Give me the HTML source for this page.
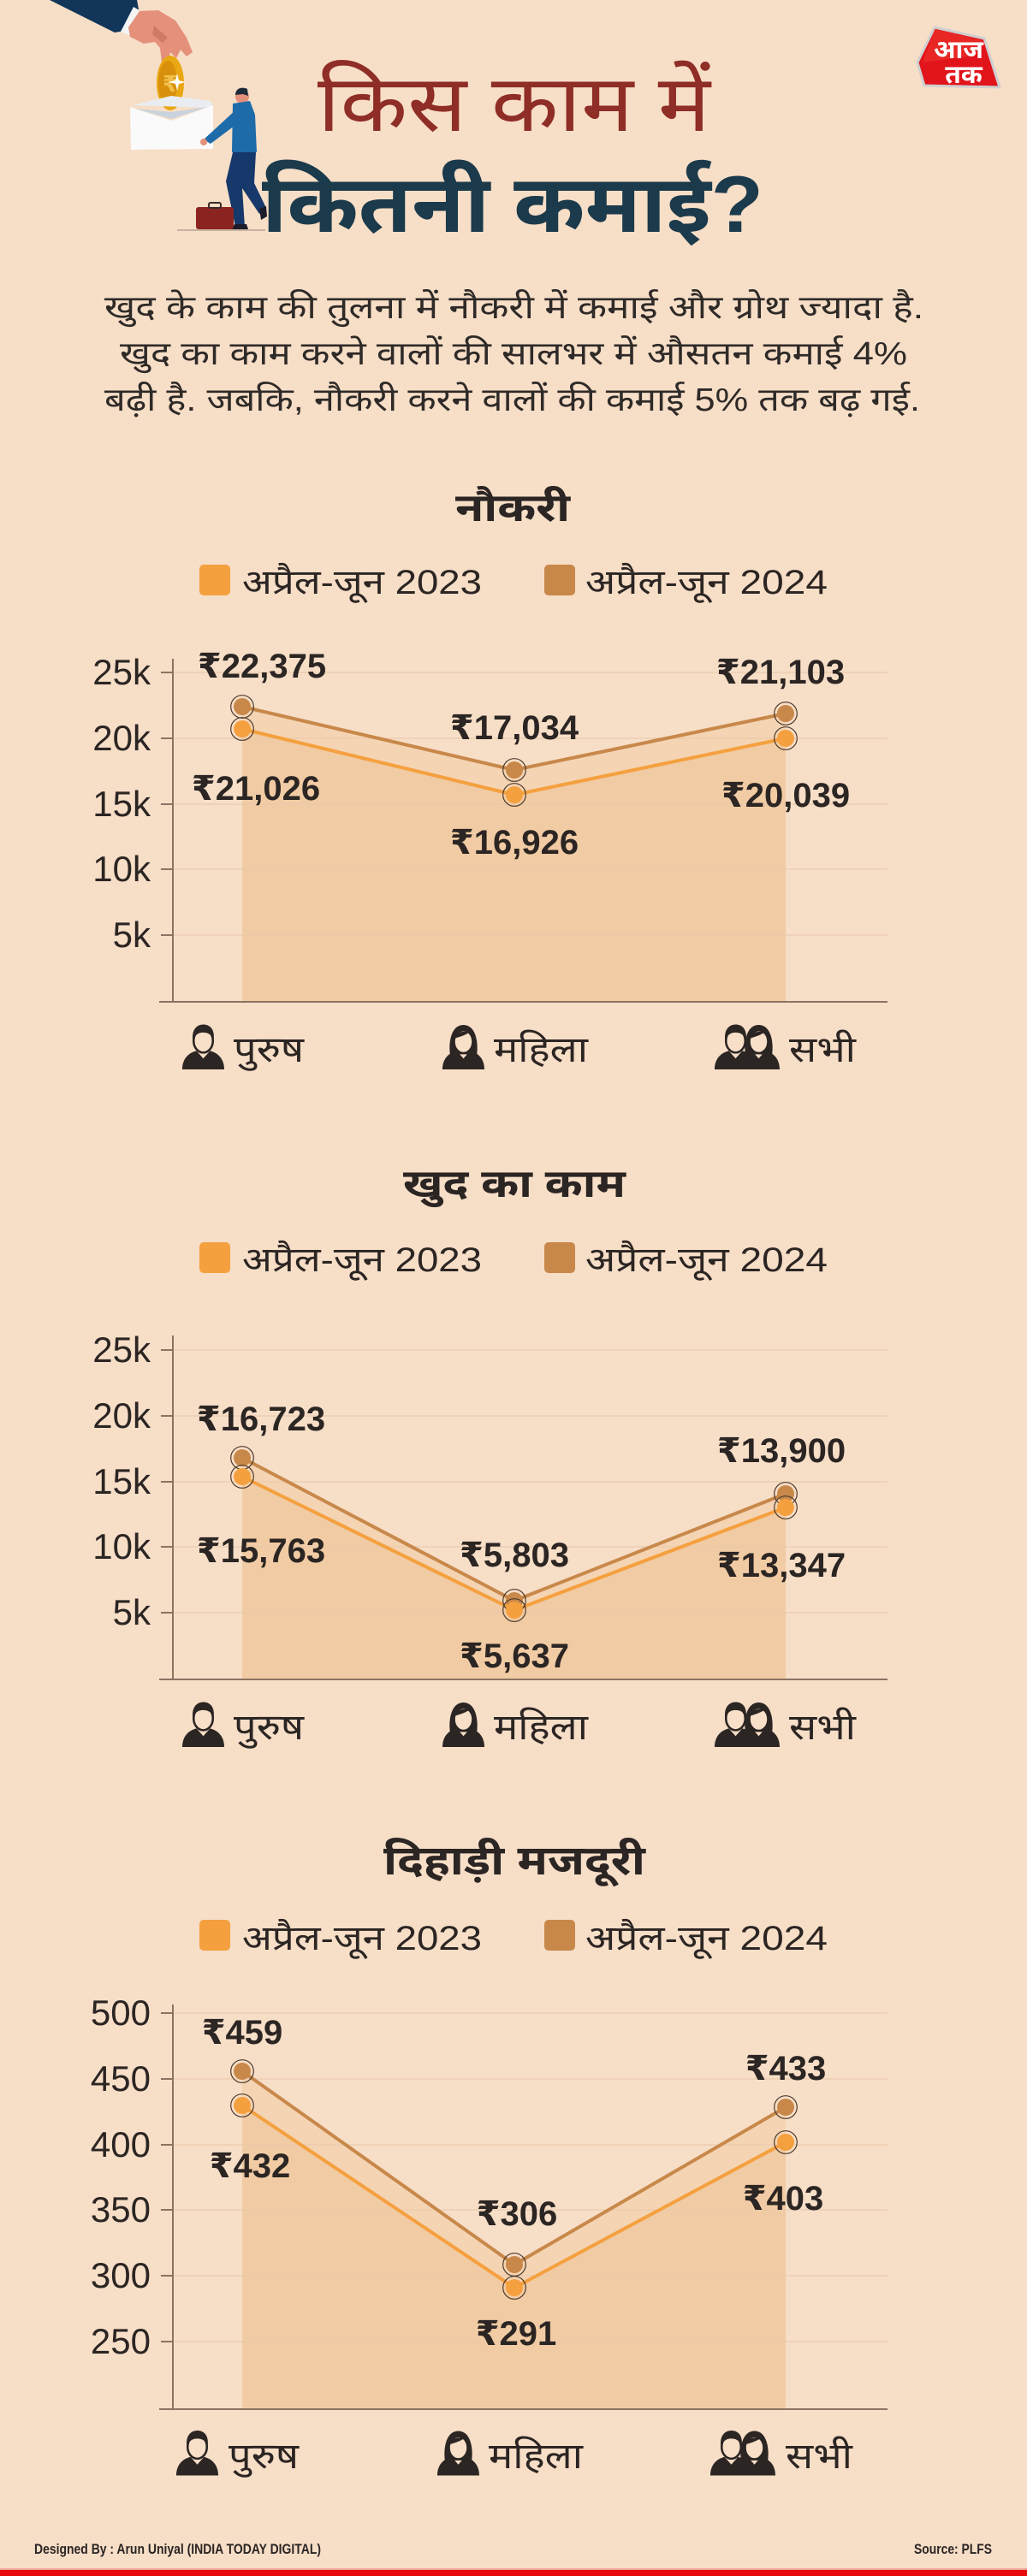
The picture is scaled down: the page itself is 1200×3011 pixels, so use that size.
<!DOCTYPE html>
<html lang="hi">
<head>
<meta charset="utf-8">
<style>
  html,body{margin:0;padding:0;background:#F7DEC7;}
  body{width:1200px;height:3011px;overflow:hidden;}
  svg{display:block;}
  .dev{font-family:"Liberation Sans","Noto Sans Devanagari","Lohit Devanagari","FreeSans","Mukta",sans-serif;}
  .num{font-family:"Liberation Sans","DejaVu Sans",sans-serif;}
</style>
</head>
<body>
<svg width="1200" height="3011" viewBox="0 0 1200 3011" xmlns="http://www.w3.org/2000/svg">
  <defs>
    <symbol id="male" viewBox="0 0 52 54">
      <path d="M1 54 C1 41 9 34 18 32 L26 41 L34 32 C43 34 51 41 51 54 Z" fill="#2b2523"/>
      <ellipse cx="26" cy="20" rx="11.5" ry="14" fill="#F7DFC8" stroke="#2b2523" stroke-width="2.6"/>
      <path d="M13.5 19 C12 6 19 0.5 26 0.5 C33 0.5 40 5 38.5 19 C36 12 31 10 26 10 C20 10 16 13 13.5 19 Z" fill="#2b2523"/>
    </symbol>
    <symbol id="female" viewBox="0 0 52 54">
      <path d="M10 36 C8 20 12 1 26 1 C40 1 44 20 42 36 Z" fill="#2b2523"/>
      <path d="M1 54 C1 41 9 34 18 32 L26 41 L34 32 C43 34 51 41 51 54 Z" fill="#2b2523"/>
      <ellipse cx="26" cy="21" rx="11" ry="13.5" fill="#F7DFC8" stroke="#2b2523" stroke-width="2.2"/>
      <path d="M15.5 17 C17 10 23 8 33 9.5 C29 13 22 15 15.5 17 Z" fill="#2b2523"/>
    </symbol>
  </defs>

  <rect x="0" y="0" width="1200" height="3011" fill="#F7DEC7"/>

  <!-- ===== Illustration ===== -->
  <g>
    <polygon points="58,0 160,0 162,11 146,36 134,38" fill="#12355A"/>
    <polygon points="156,8 166,14 151,41 141,37" fill="#F4F4F4"/>
    <polygon points="150,32 163,13 185,12 205,24 218,44 225,61 218,66 211,58 206,68 199,61 197,72 189,73 187,56 181,49 168,51 152,43" fill="#E4907B"/>
    <polygon points="180,30 196,44 190,50 178,40" fill="#CF7A66"/>
    <ellipse cx="199" cy="97" rx="16" ry="32" fill="#E9A714"/>
    <ellipse cx="196" cy="97" rx="11" ry="26" fill="#D8900C"/>
    <text x="190" y="107" font-size="26" font-weight="bold" fill="#F2C04A" class="num">₹</text>
    <path d="M207 86 L209 94 L217 96 L209 98 L207 106 L205 98 L197 96 L205 94 Z" fill="#FFFFFF"/>
    <polygon points="155,123 200,112 246,118 249,126" fill="#E9EDF1"/>
    <polygon points="152,125 200,141 249,123 249,174 153,175" fill="#FAFAFA"/>
    <polygon points="158,127 200,139 243,125 200,131" fill="#C9D3DD"/>
    <circle cx="283" cy="113" r="8" fill="#E4907B"/>
    <path d="M275 111 C275 103 283 101 289 104 L290 112 L284 110 Z" fill="#1E2A3A"/>
    <polygon points="272,121 292,118 298,134 300,178 271,178" fill="#1E6BAA"/>
    <polygon points="276,128 286,138 246,168 238,163" fill="#1E6BAA"/>
    <circle cx="238" cy="166" r="4" fill="#E4907B"/>
    <polygon points="272,178 299,178 297,214 311,243 303,250 283,220 286,265 275,265 264,212" fill="#16386A"/>
    <polygon points="274,262 288,262 290,268 270,269" fill="#1B1B2A"/>
    <polygon points="303,244 311,241 312,253 305,257" fill="#1B1B2A"/>
    <rect x="229" y="242" width="44" height="26" rx="3" fill="#8B2420"/>
    <rect x="244" y="237" width="14" height="6" rx="2" fill="none" stroke="#3a2a2a" stroke-width="2"/>
    <line x1="207" y1="269" x2="310" y2="269" stroke="#C7B3A0" stroke-width="2"/>
  </g>

  <!-- ===== Logo ===== -->
  <g>
    <polygon points="1092,32 1150,45 1168,102 1080,100 1072,73" fill="#E2141B" stroke="#CFCFCF" stroke-width="3" stroke-linejoin="round"/>
    <polygon points="1092,34 1148,47 1140,65 1078,73" fill="#EE3A30" opacity="0.5"/>
    <text x="1120" y="68" font-size="30" font-weight="bold" fill="#FFFFFF" text-anchor="middle" class="dev">आज</text>
    <text x="1126" y="97" font-size="30" font-weight="bold" fill="#FFFFFF" text-anchor="middle" class="dev">तक</text>
  </g>

  <!-- ===== Title ===== -->
  <text x="371" y="153" font-size="92" fill="#8F2D27" class="dev" textLength="459" lengthAdjust="spacingAndGlyphs">किस काम में</text>
  <text x="306" y="271" font-size="94" font-weight="bold" fill="#1B3A4B" class="dev" textLength="586" lengthAdjust="spacingAndGlyphs">कितनी कमाई?</text>

  <!-- ===== Paragraph ===== -->
  <g font-size="38" fill="#2e2a28" class="dev">
    <text x="122" y="372" textLength="957" lengthAdjust="spacingAndGlyphs">खुद के काम की तुलना में नौकरी में कमाई और ग्रोथ ज्यादा है.</text>
    <text x="140" y="426" textLength="920" lengthAdjust="spacingAndGlyphs">खुद का काम करने वालों की सालभर में औसतन कमाई 4%</text>
    <text x="122" y="480" textLength="953" lengthAdjust="spacingAndGlyphs">बढ़ी है. जबकि, नौकरी करने वालों की कमाई 5% तक बढ़ गई.</text>
  </g>

  <!-- ================= CHART 1 : नौकरी ================= -->
  <g>
    <text x="599" y="609" font-size="46" font-weight="bold" fill="#2b2523" text-anchor="middle" class="dev" textLength="134" lengthAdjust="spacingAndGlyphs">नौकरी</text>
    <rect x="233" y="660" width="36" height="36" rx="5" fill="#F5A03F"/>
    <text x="283" y="694" font-size="40" fill="#2b2523" class="dev" textLength="280" lengthAdjust="spacingAndGlyphs">अप्रैल-जून 2023</text>
    <rect x="636" y="660" width="36" height="36" rx="5" fill="#C8884A"/>
    <text x="684" y="694" font-size="40" fill="#2b2523" class="dev" textLength="283" lengthAdjust="spacingAndGlyphs">अप्रैल-जून 2024</text>

    <polygon points="283,1170 283,826 601,900 918,834 918,1170" fill="#F4D4B3"/>
    <polygon points="283,1170 283,852 601,929 918,863 918,1170" fill="#F1CBA3"/>
    <g stroke="#E9C9AC" stroke-width="1.6" opacity="0.75">
      <line x1="202" y1="786" x2="1037" y2="786"/>
      <line x1="202" y1="863" x2="1037" y2="863"/>
      <line x1="202" y1="940" x2="1037" y2="940"/>
      <line x1="202" y1="1016" x2="1037" y2="1016"/>
      <line x1="202" y1="1093" x2="1037" y2="1093"/>
    </g>
    <g stroke="#8A7462" stroke-width="2">
      <line x1="202" y1="770" x2="202" y2="1171"/>
      <line x1="186" y1="1171" x2="1037" y2="1171"/>
      <line x1="188" y1="786" x2="202" y2="786"/>
      <line x1="188" y1="863" x2="202" y2="863"/>
      <line x1="188" y1="940" x2="202" y2="940"/>
      <line x1="188" y1="1016" x2="202" y2="1016"/>
      <line x1="188" y1="1093" x2="202" y2="1093"/>
    </g>
    <g font-size="42" fill="#2b2523" text-anchor="end" class="num">
      <text x="176" y="800">25k</text>
      <text x="176" y="877">20k</text>
      <text x="176" y="954">15k</text>
      <text x="176" y="1030">10k</text>
      <text x="176" y="1107">5k</text>
    </g>
    <polyline points="283,826 601,900 918,834" fill="none" stroke="#C8884A" stroke-width="4" stroke-linejoin="round"/>
    <polyline points="283,852 601,929 918,863" fill="none" stroke="#F5A03F" stroke-width="4" stroke-linejoin="round"/>
    <g>
      <circle cx="283" cy="826" r="10" fill="#C8884A"/><circle cx="283" cy="826" r="13.3" fill="none" stroke="#4d3b2d" stroke-width="1.2"/>
      <circle cx="601" cy="900" r="10" fill="#C8884A"/><circle cx="601" cy="900" r="13.3" fill="none" stroke="#4d3b2d" stroke-width="1.2"/>
      <circle cx="918" cy="834" r="10" fill="#C8884A"/><circle cx="918" cy="834" r="13.3" fill="none" stroke="#4d3b2d" stroke-width="1.2"/>
      <circle cx="283" cy="852" r="10" fill="#F5A03F"/><circle cx="283" cy="852" r="13.3" fill="none" stroke="#4d3b2d" stroke-width="1.2"/>
      <circle cx="601" cy="929" r="10" fill="#F5A03F"/><circle cx="601" cy="929" r="13.3" fill="none" stroke="#4d3b2d" stroke-width="1.2"/>
      <circle cx="918" cy="863" r="10" fill="#F5A03F"/><circle cx="918" cy="863" r="13.3" fill="none" stroke="#4d3b2d" stroke-width="1.2"/>
    </g>
    <g font-size="40" font-weight="bold" fill="#2b2523" text-anchor="middle" class="num">
      <text x="306" y="792">₹22,375</text>
      <text x="299" y="935">₹21,026</text>
      <text x="601" y="864">₹17,034</text>
      <text x="601" y="998">₹16,926</text>
      <text x="912" y="799">₹21,103</text>
      <text x="918" y="943">₹20,039</text>
    </g>
    <use href="#male" x="212" y="1197" width="51" height="53"/>
    <text x="273" y="1241" font-size="42" fill="#2b2523" class="dev" textLength="82" lengthAdjust="spacingAndGlyphs">पुरुष</text>
    <use href="#female" x="516" y="1197" width="51" height="53"/>
    <text x="577" y="1241" font-size="42" fill="#2b2523" class="dev" textLength="110" lengthAdjust="spacingAndGlyphs">महिला</text>
    <use href="#male" x="834" y="1197" width="51" height="53"/>
    <use href="#female" x="861" y="1197" width="51" height="53"/>
    <text x="922" y="1241" font-size="42" fill="#2b2523" class="dev" textLength="78" lengthAdjust="spacingAndGlyphs">सभी</text>
  </g>

  <!-- ================= CHART 2 : खुद का काम ================= -->
  <g>
    <text x="601" y="1399" font-size="46" font-weight="bold" fill="#2b2523" text-anchor="middle" class="dev" textLength="260" lengthAdjust="spacingAndGlyphs">खुद का काम</text>
    <rect x="233" y="1452" width="36" height="36" rx="5" fill="#F5A03F"/>
    <text x="283" y="1486" font-size="40" fill="#2b2523" class="dev" textLength="280" lengthAdjust="spacingAndGlyphs">अप्रैल-जून 2023</text>
    <rect x="636" y="1452" width="36" height="36" rx="5" fill="#C8884A"/>
    <text x="684" y="1486" font-size="40" fill="#2b2523" class="dev" textLength="283" lengthAdjust="spacingAndGlyphs">अप्रैल-जून 2024</text>

    <polygon points="283,1962 283,1704 601,1871 918,1746 918,1962" fill="#F4D4B3"/>
    <polygon points="283,1962 283,1726 601,1882 918,1762 918,1962" fill="#F1CBA3"/>
    <g stroke="#E9C9AC" stroke-width="1.6" opacity="0.75">
      <line x1="202" y1="1578" x2="1037" y2="1578"/>
      <line x1="202" y1="1655" x2="1037" y2="1655"/>
      <line x1="202" y1="1732" x2="1037" y2="1732"/>
      <line x1="202" y1="1808" x2="1037" y2="1808"/>
      <line x1="202" y1="1885" x2="1037" y2="1885"/>
    </g>
    <g stroke="#8A7462" stroke-width="2">
      <line x1="202" y1="1561" x2="202" y2="1963"/>
      <line x1="186" y1="1963" x2="1037" y2="1963"/>
      <line x1="188" y1="1578" x2="202" y2="1578"/>
      <line x1="188" y1="1655" x2="202" y2="1655"/>
      <line x1="188" y1="1732" x2="202" y2="1732"/>
      <line x1="188" y1="1808" x2="202" y2="1808"/>
      <line x1="188" y1="1885" x2="202" y2="1885"/>
    </g>
    <g font-size="42" fill="#2b2523" text-anchor="end" class="num">
      <text x="176" y="1592">25k</text>
      <text x="176" y="1669">20k</text>
      <text x="176" y="1746">15k</text>
      <text x="176" y="1822">10k</text>
      <text x="176" y="1899">5k</text>
    </g>
    <polyline points="283,1704 601,1871 918,1746" fill="none" stroke="#C8884A" stroke-width="4" stroke-linejoin="round"/>
    <polyline points="283,1726 601,1882 918,1762" fill="none" stroke="#F5A03F" stroke-width="4" stroke-linejoin="round"/>
    <g>
      <circle cx="283" cy="1704" r="10" fill="#C8884A"/><circle cx="283" cy="1704" r="13.3" fill="none" stroke="#4d3b2d" stroke-width="1.2"/>
      <circle cx="601" cy="1871" r="10" fill="#C8884A"/><circle cx="601" cy="1871" r="13.3" fill="none" stroke="#4d3b2d" stroke-width="1.2"/>
      <circle cx="918" cy="1746" r="10" fill="#C8884A"/><circle cx="918" cy="1746" r="13.3" fill="none" stroke="#4d3b2d" stroke-width="1.2"/>
      <circle cx="283" cy="1726" r="10" fill="#F5A03F"/><circle cx="283" cy="1726" r="13.3" fill="none" stroke="#4d3b2d" stroke-width="1.2"/>
      <circle cx="601" cy="1882" r="10" fill="#F5A03F"/><circle cx="601" cy="1882" r="13.3" fill="none" stroke="#4d3b2d" stroke-width="1.2"/>
      <circle cx="918" cy="1762" r="10" fill="#F5A03F"/><circle cx="918" cy="1762" r="13.3" fill="none" stroke="#4d3b2d" stroke-width="1.2"/>
    </g>
    <g font-size="40" font-weight="bold" fill="#2b2523" text-anchor="middle" class="num">
      <text x="305" y="1672">₹16,723</text>
      <text x="305" y="1826">₹15,763</text>
      <text x="601" y="1831">₹5,803</text>
      <text x="601" y="1949">₹5,637</text>
      <text x="913" y="1709">₹13,900</text>
      <text x="913" y="1843">₹13,347</text>
    </g>
    <use href="#male" x="212" y="1989" width="51" height="53"/>
    <text x="273" y="2033" font-size="42" fill="#2b2523" class="dev" textLength="82" lengthAdjust="spacingAndGlyphs">पुरुष</text>
    <use href="#female" x="516" y="1989" width="51" height="53"/>
    <text x="577" y="2033" font-size="42" fill="#2b2523" class="dev" textLength="110" lengthAdjust="spacingAndGlyphs">महिला</text>
    <use href="#male" x="834" y="1989" width="51" height="53"/>
    <use href="#female" x="861" y="1989" width="51" height="53"/>
    <text x="922" y="2033" font-size="42" fill="#2b2523" class="dev" textLength="78" lengthAdjust="spacingAndGlyphs">सभी</text>
  </g>

  <!-- ================= CHART 3 : दिहाड़ी मजदूरी ================= -->
  <g>
    <text x="601" y="2191" font-size="48" font-weight="bold" fill="#2b2523" text-anchor="middle" class="dev" textLength="306" lengthAdjust="spacingAndGlyphs">दिहाड़ी मजदूरी</text>
    <rect x="233" y="2244" width="36" height="36" rx="5" fill="#F5A03F"/>
    <text x="283" y="2279" font-size="40" fill="#2b2523" class="dev" textLength="280" lengthAdjust="spacingAndGlyphs">अप्रैल-जून 2023</text>
    <rect x="636" y="2244" width="36" height="36" rx="5" fill="#C8884A"/>
    <text x="684" y="2279" font-size="40" fill="#2b2523" class="dev" textLength="283" lengthAdjust="spacingAndGlyphs">अप्रैल-जून 2024</text>

    <polygon points="283,2815 283,2421 601,2647 918,2463 918,2815" fill="#F4D4B3"/>
    <polygon points="283,2815 283,2461 601,2674 918,2504 918,2815" fill="#F1CBA3"/>
    <g stroke="#E9C9AC" stroke-width="1.6" opacity="0.75">
      <line x1="202" y1="2353" x2="1037" y2="2353"/>
      <line x1="202" y1="2430" x2="1037" y2="2430"/>
      <line x1="202" y1="2507" x2="1037" y2="2507"/>
      <line x1="202" y1="2583" x2="1037" y2="2583"/>
      <line x1="202" y1="2660" x2="1037" y2="2660"/>
      <line x1="202" y1="2737" x2="1037" y2="2737"/>
    </g>
    <g stroke="#8A7462" stroke-width="2">
      <line x1="202" y1="2343" x2="202" y2="2816"/>
      <line x1="186" y1="2816" x2="1037" y2="2816"/>
      <line x1="188" y1="2353" x2="202" y2="2353"/>
      <line x1="188" y1="2430" x2="202" y2="2430"/>
      <line x1="188" y1="2507" x2="202" y2="2507"/>
      <line x1="188" y1="2583" x2="202" y2="2583"/>
      <line x1="188" y1="2660" x2="202" y2="2660"/>
      <line x1="188" y1="2737" x2="202" y2="2737"/>
    </g>
    <g font-size="42" fill="#2b2523" text-anchor="end" class="num">
      <text x="176" y="2367">500</text>
      <text x="176" y="2444">450</text>
      <text x="176" y="2521">400</text>
      <text x="176" y="2597">350</text>
      <text x="176" y="2674">300</text>
      <text x="176" y="2751">250</text>
    </g>
    <polyline points="283,2421 601,2647 918,2463" fill="none" stroke="#C8884A" stroke-width="4" stroke-linejoin="round"/>
    <polyline points="283,2461 601,2674 918,2504" fill="none" stroke="#F5A03F" stroke-width="4" stroke-linejoin="round"/>
    <g>
      <circle cx="283" cy="2421" r="10" fill="#C8884A"/><circle cx="283" cy="2421" r="13.3" fill="none" stroke="#4d3b2d" stroke-width="1.2"/>
      <circle cx="601" cy="2647" r="10" fill="#C8884A"/><circle cx="601" cy="2647" r="13.3" fill="none" stroke="#4d3b2d" stroke-width="1.2"/>
      <circle cx="918" cy="2463" r="10" fill="#C8884A"/><circle cx="918" cy="2463" r="13.3" fill="none" stroke="#4d3b2d" stroke-width="1.2"/>
      <circle cx="283" cy="2461" r="10" fill="#F5A03F"/><circle cx="283" cy="2461" r="13.3" fill="none" stroke="#4d3b2d" stroke-width="1.2"/>
      <circle cx="601" cy="2674" r="10" fill="#F5A03F"/><circle cx="601" cy="2674" r="13.3" fill="none" stroke="#4d3b2d" stroke-width="1.2"/>
      <circle cx="918" cy="2504" r="10" fill="#F5A03F"/><circle cx="918" cy="2504" r="13.3" fill="none" stroke="#4d3b2d" stroke-width="1.2"/>
    </g>
    <g font-size="40" font-weight="bold" fill="#2b2523" text-anchor="middle" class="num">
      <text x="283" y="2389">₹459</text>
      <text x="292" y="2545">₹432</text>
      <text x="604" y="2601">₹306</text>
      <text x="603" y="2741">₹291</text>
      <text x="918" y="2431">₹433</text>
      <text x="915" y="2583">₹403</text>
    </g>
    <use href="#male" x="205" y="2840" width="51" height="54"/>
    <text x="267" y="2885" font-size="42" fill="#2b2523" class="dev" textLength="82" lengthAdjust="spacingAndGlyphs">पुरुष</text>
    <use href="#female" x="510" y="2840" width="51" height="54"/>
    <text x="571" y="2885" font-size="42" fill="#2b2523" class="dev" textLength="110" lengthAdjust="spacingAndGlyphs">महिला</text>
    <use href="#male" x="829" y="2840" width="51" height="54"/>
    <use href="#female" x="856" y="2840" width="51" height="54"/>
    <text x="918" y="2885" font-size="42" fill="#2b2523" class="dev" textLength="78" lengthAdjust="spacingAndGlyphs">सभी</text>
  </g>

  <!-- ===== Footer ===== -->
  <text x="40" y="2985" font-size="17" font-weight="bold" fill="#2b2523" font-family="'Liberation Sans Narrow','Liberation Sans',sans-serif" textLength="335" lengthAdjust="spacingAndGlyphs">Designed By : Arun Uniyal (INDIA TODAY DIGITAL)</text>
  <text x="1068" y="2985" font-size="17" font-weight="bold" fill="#2b2523" font-family="'Liberation Sans Narrow','Liberation Sans',sans-serif" textLength="91" lengthAdjust="spacingAndGlyphs">Source:  PLFS</text>
  <rect x="0" y="3002" width="1200" height="2" fill="#F2A49A"/>
  <rect x="0" y="3004" width="1200" height="7" fill="#E60A0A"/>
</svg>
</body>
</html>
